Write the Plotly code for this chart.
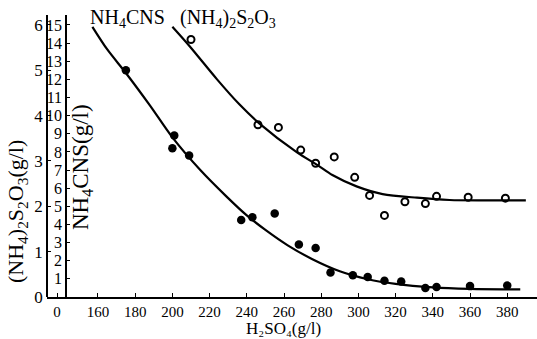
import plotly.graph_objects as go

# ---- data ----
h2so4_nh4cns = [175, 201, 200, 209, 237, 243, 255, 268, 277, 285, 297, 305, 314, 323, 336, 342, 360, 380]
nh4cns = [12.5, 8.9, 8.2, 7.8, 4.25, 4.4, 4.6, 2.9, 2.7, 1.35, 1.2, 1.1, 0.9, 0.85, 0.5, 0.55, 0.6, 0.63]

h2so4_s2o3 = [210, 246, 257, 269, 277, 287, 298, 306, 314, 325, 336, 342, 359, 379]
s2o3 = [5.68, 3.8, 3.74, 3.24, 2.95, 3.09, 2.64, 2.24, 1.8, 2.1, 2.06, 2.22, 2.2, 2.18]

# hand-drawn fitted curves
curve_nh4cns_x = [157, 165, 175, 188, 200, 215, 229, 240, 250, 262, 275, 290, 305, 320, 340, 360, 387]
curve_nh4cns_y = [14.9, 13.65, 12.35, 10.55, 8.8, 7.0, 5.55, 4.5, 3.7, 2.85, 2.1, 1.42, 0.98, 0.72, 0.53, 0.45, 0.42]
curve_s2o3_x = [200, 209.5, 224, 236, 247, 267, 278, 286, 299, 313, 331.5, 349, 367, 390]
curve_s2o3_y = [5.96, 5.52, 4.8, 4.25, 3.82, 3.19, 2.91, 2.69, 2.44, 2.27, 2.19, 2.14, 2.13, 2.13]

x_tickvals = [138, 160, 180, 200, 220, 240, 260, 280, 300, 320, 340, 360, 380]
x_ticktext = ["0", "160", "180", "200", "220", "240", "260", "280", "300", "320", "340", "360", "380"]
nh4cns_ticks = list(range(1, 16))
s2o3_ticks = list(range(0, 7))

FONT = "Liberation Serif"
INK = "black"

fig = go.Figure()

fig.add_trace(go.Scatter(x=curve_nh4cns_x, y=curve_nh4cns_y, mode="lines",
                         line=dict(color=INK, width=2.2, shape="spline", smoothing=0.8),
                         yaxis="y", showlegend=False, hoverinfo="skip"))
fig.add_trace(go.Scatter(x=curve_s2o3_x, y=curve_s2o3_y, mode="lines",
                         line=dict(color=INK, width=2.2, shape="spline", smoothing=0.8),
                         yaxis="y2", showlegend=False, hoverinfo="skip"))
fig.add_trace(go.Scatter(x=h2so4_nh4cns, y=nh4cns, mode="markers",
                         marker=dict(symbol="circle", size=8.5, color=INK),
                         yaxis="y", showlegend=False))
fig.add_trace(go.Scatter(x=h2so4_s2o3, y=s2o3, mode="markers",
                         marker=dict(symbol="circle-open", size=7, color=INK, line=dict(width=2, color=INK)),
                         yaxis="y2", showlegend=False))

W, H = 537, 339
L, R, T, B = 47, 0, 15, 42
plot_w = W - L - R
plot_h = H - T - B

fig.update_layout(
    width=W, height=H,
    margin=dict(l=L, r=R, t=T, b=B, autoexpand=False),
    paper_bgcolor="white", plot_bgcolor="white",
    font=dict(family=FONT, color=INK),
    xaxis=dict(range=[132.6, 396], tickvals=x_tickvals, ticktext=x_ticktext,
               showline=True, linecolor=INK, linewidth=1.5, ticks="inside", ticklen=4,
               tickcolor=INK, showgrid=False, zeroline=False, automargin=False,
               tickfont=dict(family=FONT, size=15, color=INK), domain=[0, 1]),
    yaxis=dict(range=[0, 15.55], tickvals=nh4cns_ticks, anchor="free",
               position=(66 - L) / plot_w, side="left", automargin=False,
               showline=True, linecolor=INK, linewidth=1.5, ticks="inside", ticklen=3,
               tickcolor=INK, showgrid=False, zeroline=False,
               tickfont=dict(family=FONT, size=16, color=INK)),
    yaxis2=dict(range=[0, 15.55 / 2.5], tickvals=s2o3_ticks, anchor="free",
                position=0, side="left", overlaying="y", automargin=False,
                showline=True, linecolor=INK, linewidth=1.5, ticks="inside", ticklen=3,
                tickcolor=INK, showgrid=False, zeroline=False,
                tickfont=dict(family=FONT, size=17, color=INK)),
)

ann_font = dict(family=FONT, size=20, color=INK)
fig.add_annotation(x=154.6, y=15.33, xref="x", yref="y", text="NH<sub>4</sub>CNS",
                   showarrow=False, xanchor="left", yanchor="middle", font=ann_font)
fig.add_annotation(x=203, y=15.33, xref="x", yref="y", text="(NH<sub>4</sub>)<sub>2</sub>S<sub>2</sub>O<sub>3</sub>",
                   showarrow=False, xanchor="left", yanchor="middle", font=ann_font)
# axis titles
fig.add_annotation(x=(17 - L) / plot_w, y=(297 - 212) / plot_h, xref="paper", yref="paper",
                   text="(NH<sub>4</sub>)<sub>2</sub>S<sub>2</sub>O<sub>3</sub>(g/l)", textangle=-90,
                   showarrow=False, xanchor="center", yanchor="middle", font=dict(family=FONT, size=22, color=INK))
fig.add_annotation(x=(82 - L) / plot_w, y=(297 - 167) / plot_h, xref="paper", yref="paper",
                   text="NH<sub>4</sub>CNS(g/l)", textangle=-90,
                   showarrow=False, xanchor="center", yanchor="middle", font=dict(family=FONT, size=23, color=INK))
fig.add_annotation(x=(283 - L) / plot_w, y=0, yshift=-(339 - 297), xref="paper", yref="paper",
                   text="H₂SO₄(g/l)", borderpad=0,
                   showarrow=False, xanchor="center", yanchor="bottom", font=dict(family=FONT, size=17, color=INK))

fig.write_html("out.html", config={"displayModeBar": False},
               post_script="document.body.style.margin='0';")
